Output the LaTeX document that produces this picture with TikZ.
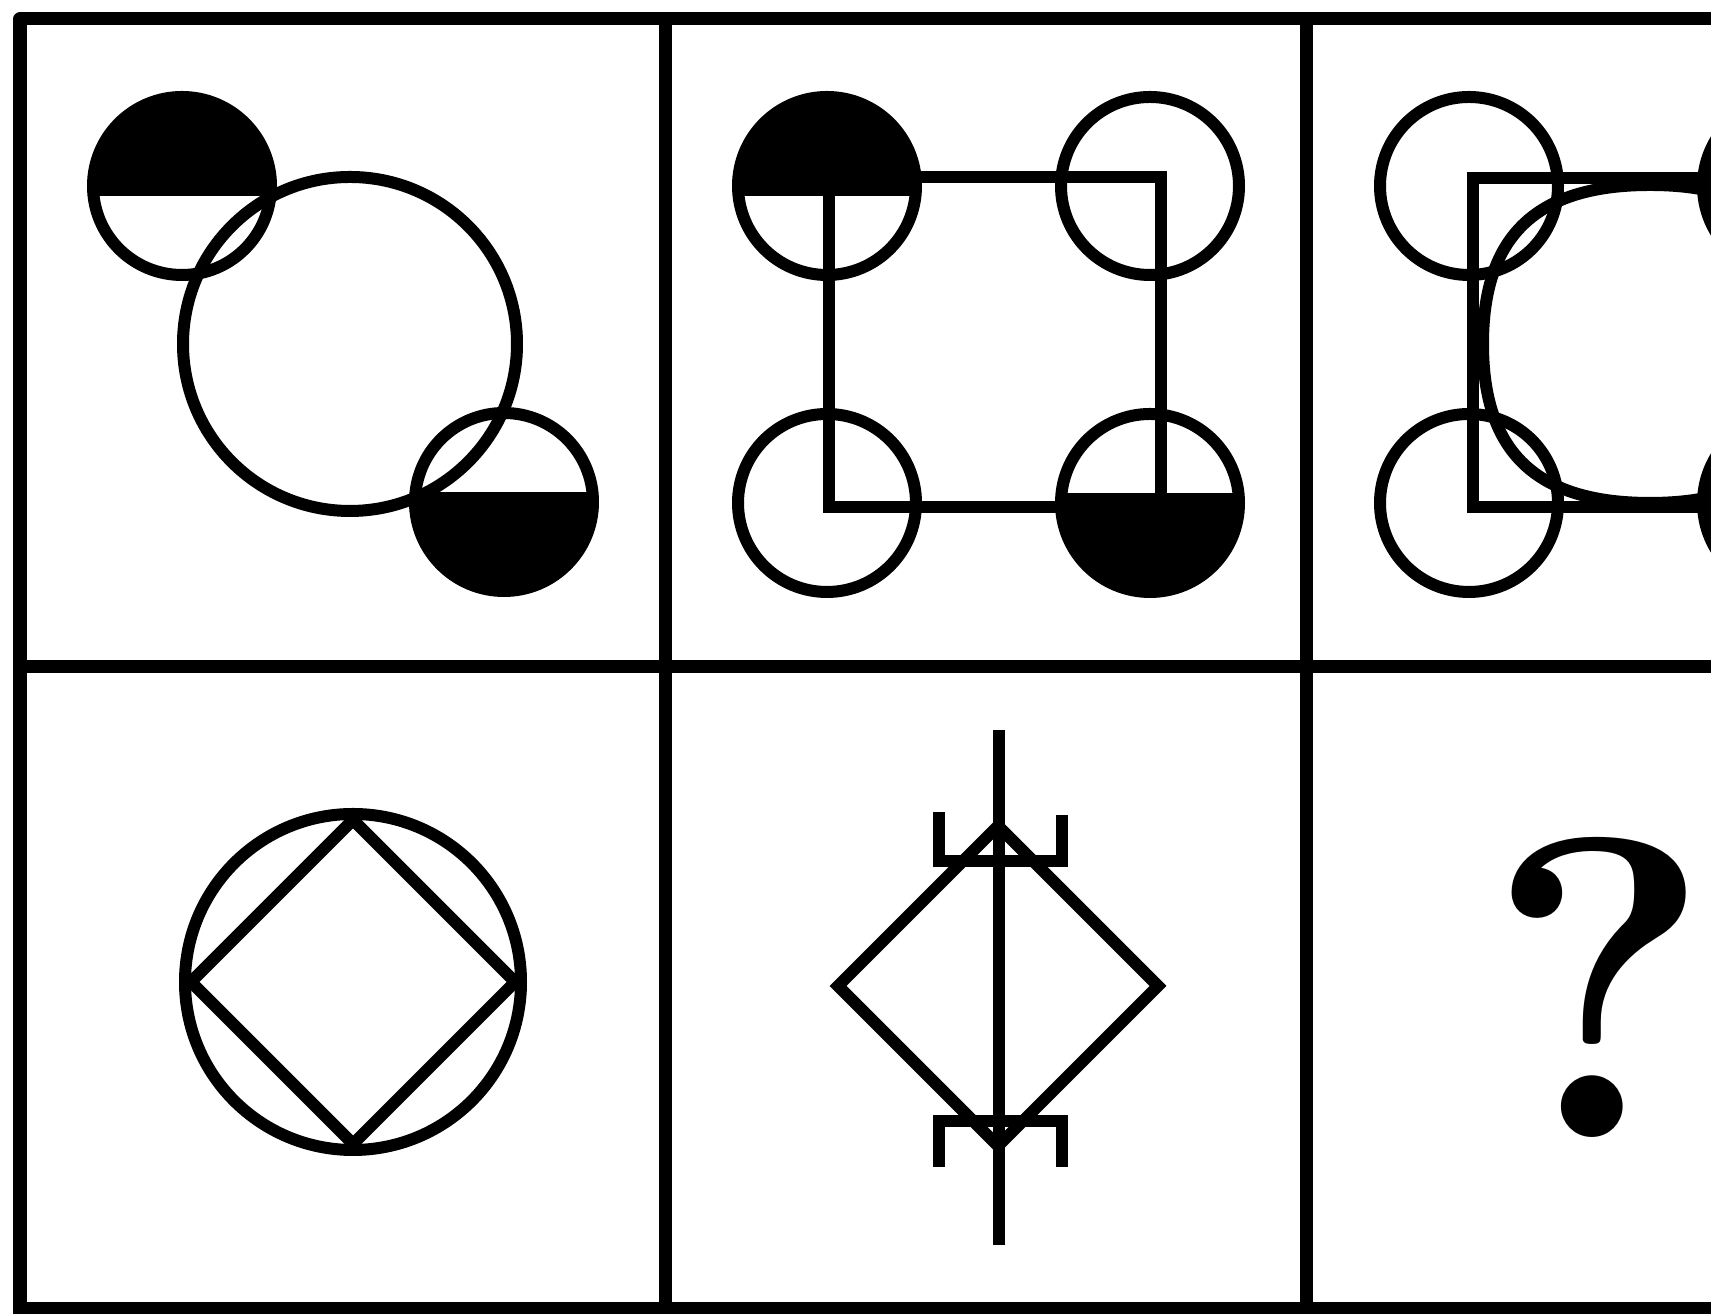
\documentclass[tikz,border=0pt]{standalone}
\usepackage{amsmath,amssymb}

\begin{document}
\begin{tikzpicture}[
  cellline/.style={line width=0.13cm, line join=round},
  fig/.style={line width=0.12cm},
  topblack/.style={path picture={\fill ([yshift=-0.1cm]path picture bounding box.east) rectangle (path picture bounding box.north west);}},
  botblack/.style={path picture={\fill ([yshift=0.1cm]path picture bounding box.west) rectangle (path picture bounding box.south east);}}
]
\useasboundingbox (0,0) rectangle (17.11,13.14);
\clip (0,0) rectangle (17.11,13.14);

\draw[cellline] (17.5,12.95) -- (0.20,12.95) -- (0.20,-0.5);
\foreach \y in {6.47,0.05}
  \draw[cellline] (0.20,\y) -- (17.5,\y);
\foreach \x in {6.65,13.06}
  \draw[cellline] (\x,12.95) -- (\x,-0.5);

\draw[fig] (3.50,9.70) circle (1.67);
\draw[fig,topblack] (1.82,11.28) circle (0.89);
\draw[fig,botblack] (5.04,8.12) circle (0.89);

\draw[fig] (8.29,11.37) rectangle (11.61,8.07);
\draw[fig,topblack] (8.27,11.28) circle (0.89);
\draw[fig,botblack] (11.50,8.11) circle (0.89);
\foreach \x/\y in {11.50/11.28,8.27/8.11}
  \draw[fig] (\x,\y) circle (0.89);

\draw[fig] (14.73,11.36) rectangle (18.05,8.07);
\draw[fig] (14.83,9.70) .. controls (14.83,10.78) and (15.36,11.29) .. (16.50,11.29)
  .. controls (17.64,11.29) and (18.17,10.78) .. (18.17,9.70)
  .. controls (18.17,8.62) and (17.64,8.11) .. (16.50,8.11)
  .. controls (15.36,8.11) and (14.83,8.62) .. (14.83,9.70) -- cycle;
\foreach \y in {11.28,8.11}{
  \draw[fig] (14.69,\y) circle (0.89);
  \filldraw[fig] (17.92,\y) circle (0.89);
}

\draw[fig] (3.53,3.32) circle (1.68);
\draw[fig] (3.53,4.94) -- (5.15,3.32) -- (3.53,1.70) -- (1.91,3.32) -- cycle;

\draw[fig] (9.98,4.88) -- (11.58,3.28) -- (9.98,1.68) -- (8.38,3.28) -- cycle;
\draw[fig] (9.99,5.84) -- (9.99,0.69);
\draw[fig] (9.39,5.02) -- (9.39,4.53) -- (10.62,4.53) -- (10.62,4.99);
\draw[fig] (9.39,1.47) -- (9.39,1.925) -- (10.62,1.925) -- (10.62,1.47);

\node[font=\fontsize{122}{122}\selectfont\bfseries, inner sep=0] (ask) at (15.99,3.27) {?};
\end{tikzpicture}
\end{document}
